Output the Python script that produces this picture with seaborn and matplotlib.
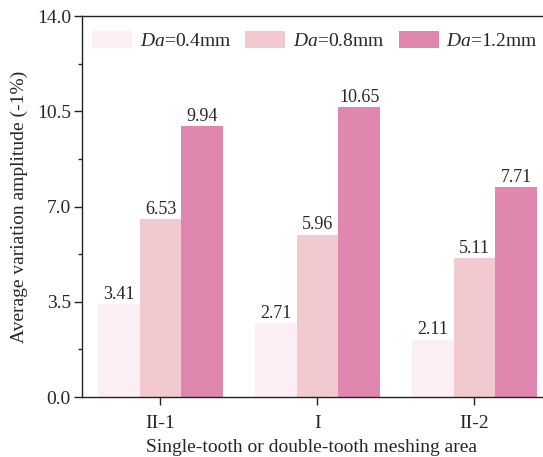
import matplotlib
matplotlib.use("Agg")
import matplotlib.pyplot as plt
from matplotlib.ticker import MultipleLocator
import seaborn as sns
import pandas as pd

categories = ["II-1", "I", "II-2"]
series_names = ["$Da$=0.4mm", "$Da$=0.8mm", "$Da$=1.2mm"]
vals_04 = [3.41, 2.71, 2.11]
vals_08 = [6.53, 5.96, 5.11]
vals_12 = [9.94, 10.65, 7.71]
colors = ["#FCEEF5", "#F2C9CF", "#E087AF"]

rows = []
for name, vals in zip(series_names, [vals_04, vals_08, vals_12]):
    for c, v in zip(categories, vals):
        rows.append({"area": c, "series": name, "value": v})
df = pd.DataFrame(rows)

sns.set_style("ticks")
plt.rcParams["font.family"] = ["Liberation Serif", "DejaVu Serif"]
plt.rcParams["mathtext.fontset"] = "custom"
plt.rcParams["mathtext.it"] = "Liberation Serif:italic"
plt.rcParams["mathtext.rm"] = "Liberation Serif"

fig = plt.figure(figsize=(5.43, 4.57), dpi=100)
ax = fig.add_axes([82/543, 1 - 397/457, (542-82)/543, (397-16)/457])

sns.barplot(data=df, x="area", y="value", hue="series", order=categories,
            hue_order=series_names, palette=colors, width=0.8, gap=0,
            saturation=1, ax=ax, edgecolor="none", linewidth=0)

for cont in ax.containers:
    ax.bar_label(cont, fmt="%.2f", fontsize=13, padding=1)

ax.set_ylim(0, 14)
ax.set_xlim(-0.5, 2.43)
ax.yaxis.set_major_locator(MultipleLocator(3.5))
ax.yaxis.set_minor_locator(MultipleLocator(1.75))
ax.set_yticklabels([f"{t:.1f}" for t in ax.get_yticks()])
ax.tick_params(axis="both", which="major", labelsize=14, direction="out", length=6, width=1)
ax.tick_params(axis="x", which="major", pad=7)
ax.tick_params(axis="y", which="major", pad=2)
ax.tick_params(axis="y", which="minor", direction="out", length=3, width=1)
ax.set_xlabel("Single-tooth or double-tooth meshing area", fontsize=14, labelpad=5)
ax.set_ylabel("Average variation amplitude (-1%)", fontsize=14, labelpad=6)

for s in ["left", "bottom", "top"]:
    ax.spines[s].set_linewidth(1.0)
    ax.spines[s].set_color("#222222")
ax.spines["right"].set_visible(False)

ax.legend(loc="upper left", bbox_to_anchor=(10/460, 1 - 15/381), ncol=3, frameon=False,
          fontsize=14, handlelength=2.05, handleheight=1.0, columnspacing=0.72,
          handletextpad=0.41, borderaxespad=0, borderpad=0)

fig.savefig("out.png", dpi=100)
